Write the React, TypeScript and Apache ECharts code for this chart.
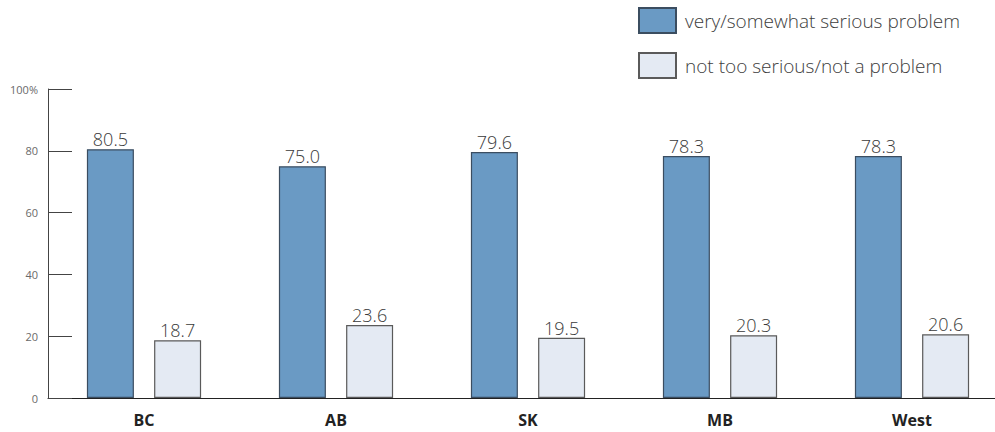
import React, { useEffect, useRef } from "react";
import * as echarts from "echarts";

const regions = ["BC", "AB", "SK", "MB", "West"];
const seriousValues = [80.5, 75.0, 79.6, 78.3, 78.3];
const notSeriousValues = [18.7, 23.6, 19.5, 20.3, 20.6];
const seriesNames = ["very/somewhat serious problem", "not too serious/not a problem"];

const FONT = "'Open Sans', 'Noto Sans', sans-serif";

export default function App() {
  const ref = useRef<HTMLDivElement>(null);

  useEffect(() => {
    if (!ref.current) return;
    const chart = echarts.init(ref.current, undefined, { renderer: "svg" });
    const label = {
      show: true,
      position: "top",
      distance: 1,
      fontFamily: FONT,
      fontSize: 18,
      fontWeight: 300,
      color: "#3a3a3a",
      formatter: (p: any) => Number(p.value).toFixed(1),
    };
    chart.setOption({
      animation: false,
      textStyle: { fontFamily: FONT },
      legend: {
        orient: "vertical",
        left: 638,
        top: 7,
        padding: 0,
        itemWidth: 37,
        itemHeight: 25,
        itemGap: 18,
        icon: "rect",
        textStyle: {
          fontSize: 19,
          fontWeight: 300,
          color: "#3d3d3d",
          fontFamily: FONT,
          lineHeight: 25,
          padding: [0, 0, 0, 4],
        },
        data: seriesNames,
      },
      grid: { left: 48, top: 89, bottom: 34, right: 0, containLabel: false },
      xAxis: {
        type: "category",
        data: regions,
        axisTick: { show: false },
        axisLine: { lineStyle: { color: "#222", width: 1 } },
        axisLabel: { fontWeight: "bold", fontSize: 16, color: "#222", margin: 14, fontFamily: FONT },
      },
      yAxis: {
        type: "value",
        min: 0,
        max: 100,
        interval: 20,
        splitLine: { show: false },
        axisLine: { show: true, lineStyle: { color: "#444", width: 1 } },
        axisTick: { show: true, inside: true, length: 24, lineStyle: { color: "#444" } },
        axisLabel: {
          fontSize: 11,
          color: "#6a6a6a",
          margin: 10,
          fontFamily: FONT,
          formatter: (v: number) => (v === 100 ? "100%" : String(v)),
        },
      },
      series: [
        {
          name: seriesNames[0],
          type: "bar",
          data: seriousValues,
          barWidth: 47,
          barGap: "43%",
          itemStyle: { color: "#6a9ac4", borderColor: "#3b4d60", borderWidth: 1.2 },
          label,
        },
        {
          name: seriesNames[1],
          type: "bar",
          data: notSeriousValues,
          barWidth: 47,
          barGap: "43%",
          itemStyle: { color: "#e4eaf3", borderColor: "#5a5a5a", borderWidth: 1.2 },
          label,
        },
      ],
    });
    return () => chart.dispose();
  }, []);

  // The plot runs a little past the right edge, so the chart is wider than the visible frame.
  return (
    <div style={{ width: 995, height: 432, position: "absolute", left: 0, top: 0, overflow: "hidden" }}>
      <div ref={ref} style={{ width: 1008, height: 432 }} />
    </div>
  );
}
